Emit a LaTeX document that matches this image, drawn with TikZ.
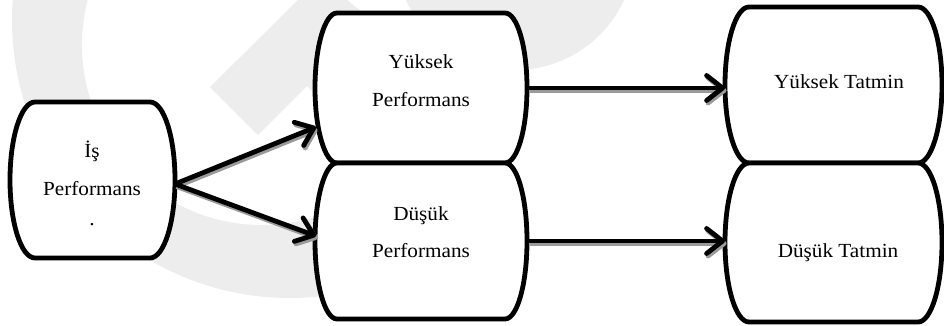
\documentclass[tikz,border=0pt]{standalone}
\usepackage{fontspec}
\setmainfont{Liberation Serif}[FakeStretch=1.06]
\usetikzlibrary{arrows.meta}
\definecolor{wm}{HTML}{EDEDED}
\definecolor{shd}{HTML}{9A9A9A}
\tikzset{
  boxnode/.style={draw=none, inner sep=0pt, outer sep=0pt},
  boxline/.style={line width=4.8pt, draw=black, fill=white, line join=round},
  lbl/.style={anchor=base, inner sep=0pt, font=\fontsize{20pt}{24pt}\selectfont},
  arr/.style={line width=4.8pt, draw=black, -{Straight Barb[length=16pt,width=25pt,round]}},
  arrshadow/.style={arr, draw=shd, transform canvas={xshift=1.5pt,yshift=-2.5pt}},
}
\newcommand\bulgebox[3]{\draw[boxline] ([xshift=#2]#1.north west) -- ([xshift=-#2]#1.north east)
  arc[start angle=90,end angle=-90,x radius=#2,y radius=#3]
  -- ([xshift=#2]#1.south west)
  arc[start angle=270,end angle=90,x radius=#2,y radius=#3] -- cycle;}
\begin{document}
\begin{tikzpicture}[x=1pt,y=-1pt]
\useasboundingbox (0,0) rectangle (944,325);
% watermark
\begin{scope}
\clip (0,0) rectangle (944,325);
\begin{scope}
\clip (0,0) rectangle (420,325);
\fill[wm, even odd rule] (290,20) circle[radius=278pt] (262,45) circle[radius=180pt];
\end{scope}
\fill[wm] (320,-22) -- (210,87) -- (258,135) -- (307,86) -- (350,129) -- (420,59) -- cycle;
\fill[wm] (515,-50) circle[radius=120pt];
\end{scope}
% box nodes
\node[boxnode, minimum width=165pt, minimum height=156pt] (is) at (92.5,180) {};
\node[boxnode, minimum width=212pt, minimum height=150pt] (yp) at (421,88) {};
\node[boxnode, minimum width=212pt, minimum height=156pt] (dp) at (421,241) {};
\node[boxnode, minimum width=217pt, minimum height=156pt] (yt) at (833.5,85) {};
\node[boxnode, minimum width=217pt, minimum height=159pt] (dt) at (833.5,242.5) {};
\bulgebox{is}{25pt}{78pt}
\bulgebox{yp}{22pt}{75pt}
\bulgebox{dp}{22pt}{78pt}
\bulgebox{yt}{24pt}{78pt}
\bulgebox{dt}{24pt}{79.5pt}
% labels
\node[lbl] (isa) at (92,157) {İş};
\node[lbl] (isb) at (92,195) {Performans};
\node[lbl] (isc) at (92,225) {.};
\node[lbl] (ypa) at (421,68) {Yüksek};
\node[lbl] (ypb) at (421,106) {Performans};
\node[lbl] (dpa) at (421,220) {Düşük};
\node[lbl] (dpb) at (421,257) {Performans};
\node[lbl] (yta) at (839,88) {Yüksek Tatmin};
\node[lbl] (dta) at (838,257) {Düşük Tatmin};
% arrow shadows
\draw[arrshadow] ([yshift=-4pt]is.east) -- ([xshift=1pt,yshift=-39pt]yp.west);
\draw[arrshadow] ([yshift=-4pt]is.east) -- ([xshift=1pt,yshift=5pt]dp.west);
\draw[arrshadow] (yp.east) -- (yp.east -| yt.west);
\draw[arrshadow] (dp.east) -- (dp.east -| dt.west);
% arrows
\draw[arr] ([yshift=-4pt]is.east) -- ([xshift=1pt,yshift=-39pt]yp.west);
\draw[arr] ([yshift=-4pt]is.east) -- ([xshift=1pt,yshift=5pt]dp.west);
\draw[arr] (yp.east) -- (yp.east -| yt.west);
\draw[arr] (dp.east) -- (dp.east -| dt.west);
\end{tikzpicture}
\end{document}
